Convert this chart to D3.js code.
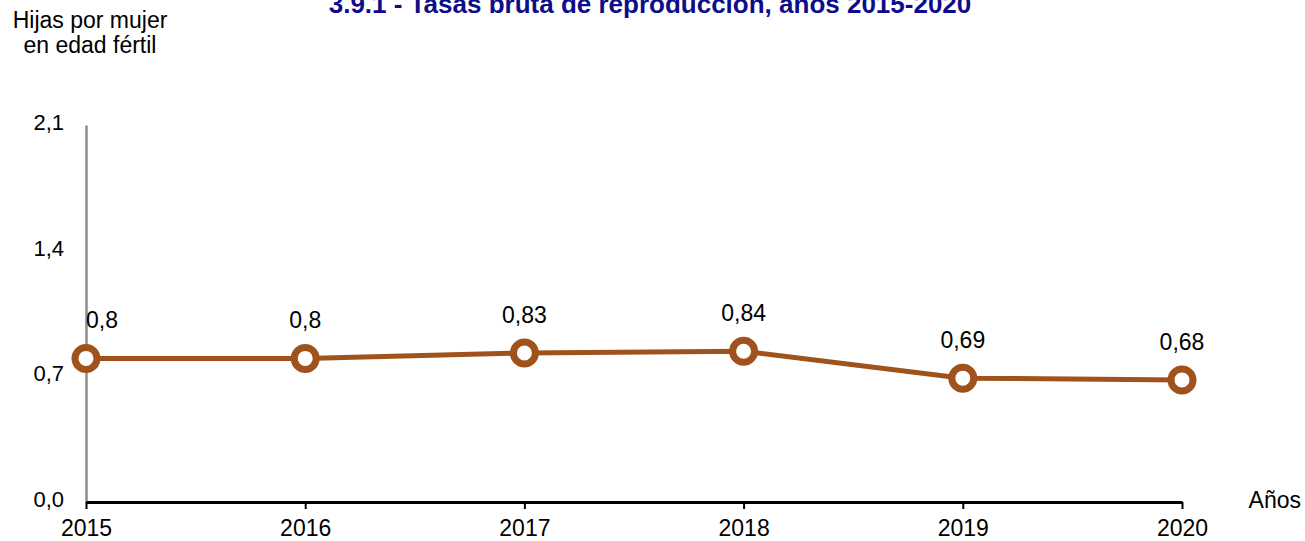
<!DOCTYPE html>
<html>
<head>
<meta charset="utf-8">
<script src="https://cdn.jsdelivr.net/npm/d3@7"></script>
<style>
  body { margin: 0; background: #fff; }
  svg text { font-family: Arial, "Liberation Sans", sans-serif; }
</style>
</head>
<body>
<div id="chart"></div>
<script>
// chart data
var years = ["2015", "2016", "2017", "2018", "2019", "2020"];
var values = [0.8, 0.8, 0.83, 0.84, 0.69, 0.68];
var labels = ["0,8", "0,8", "0,83", "0,84", "0,69", "0,68"];
var yTicks = [0, 0.7, 1.4, 2.1];

(function() {
  var width = 1305,
      height = 541;

  var svg = d3.select("#chart")
    .append("svg")
    .attr("width", width)
    .attr("height", height);

  var x = d3.scalePoint().domain(years).range([86, 1182]);
  var y = d3.scaleLinear().domain([0, 2.1]).range([502, 125]);

  var fmt = function(d) { return d3.format(".1f")(d).replace(".", ","); };

  // title (top is clipped in the original as well)
  svg.append("text")
    .attr("x", 650)
    .attr("y", 13)
    .attr("text-anchor", "middle")
    .attr("font-size", 26)
    .attr("font-weight", "bold")
    .attr("fill", "#0d0d8c")
    .text("3.9.1 - Tasas bruta de reproducción, años 2015-2020");

  // y axis title
  var yt = svg.append("text")
    .attr("text-anchor", "middle")
    .attr("font-size", 23)
    .attr("fill", "#000");
  yt.append("tspan").attr("x", 90).attr("y", 28).text("Hijas por mujer");
  yt.append("tspan").attr("x", 90).attr("y", 53).text("en edad fértil");

  // y axis (gray line, no ticks)
  var yAxis = svg.append("g")
    .attr("transform", "translate(86,0)")
    .call(d3.axisLeft(y).tickValues(yTicks).tickSize(0).tickPadding(22).tickFormat(fmt));
  yAxis.select(".domain").attr("stroke", "#8c8c8c").attr("stroke-width", 2.5);
  yAxis.selectAll("text").attr("font-size", 22).attr("fill", "#000").attr("dy", "0.2em");

  // x axis
  var xAxis = svg.append("g")
    .attr("transform", "translate(0,502)")
    .call(d3.axisBottom(x).tickSizeInner(7).tickSizeOuter(0).tickPadding(11));
  xAxis.select(".domain").attr("stroke", "#000").attr("stroke-width", 3);
  xAxis.selectAll(".tick line").attr("stroke", "#000").attr("stroke-width", 2);
  xAxis.selectAll("text").attr("font-size", 23).attr("fill", "#000");

  svg.append("text")
    .attr("x", 1301)
    .attr("y", 508)
    .attr("text-anchor", "end")
    .attr("font-size", 23)
    .text("Años");

  // line
  var line = d3.line()
    .x(function(d, i) { return x(years[i]); })
    .y(function(d) { return y(d); });

  svg.append("path")
    .datum(values)
    .attr("fill", "none")
    .attr("stroke", "#a0521c")
    .attr("stroke-width", 5)
    .attr("d", line);

  svg.selectAll(".pt")
    .data(values)
    .enter().append("circle")
    .attr("class", "pt")
    .attr("cx", function(d, i) { return x(years[i]); })
    .attr("cy", function(d) { return y(d); })
    .attr("r", 11)
    .attr("fill", "#fff")
    .attr("stroke", "#a0521c")
    .attr("stroke-width", 7);

  svg.selectAll(".lbl")
    .data(values)
    .enter().append("text")
    .attr("class", "lbl")
    .attr("x", function(d, i) { return x(years[i]) + (i === 0 ? 16 : 0); })
    .attr("y", function(d) { return y(d) - 30; })
    .attr("text-anchor", "middle")
    .attr("font-size", 23)
    .text(function(d, i) { return labels[i]; });
})();
</script>
</body>
</html>
